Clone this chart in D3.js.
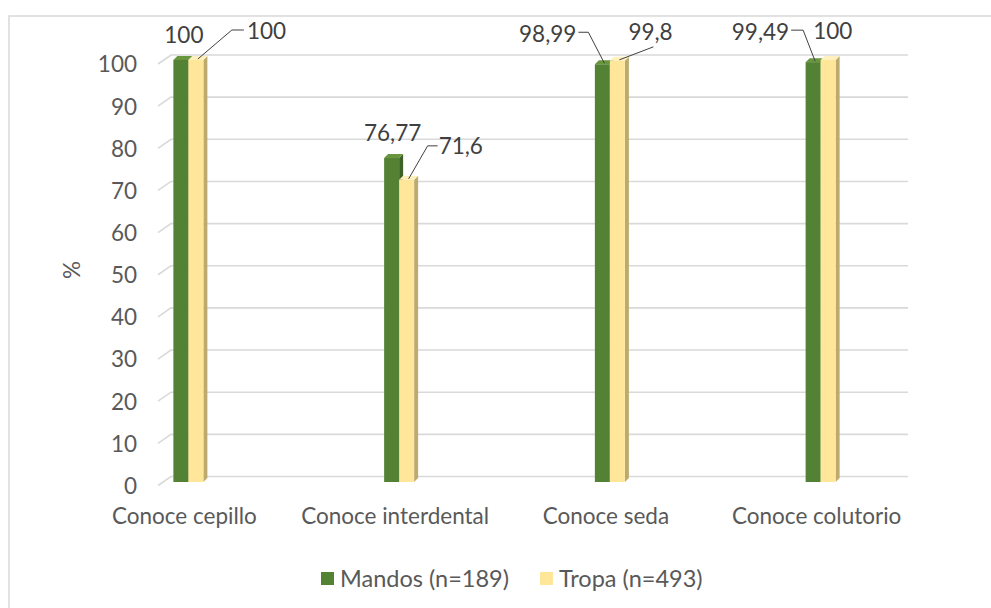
<!DOCTYPE html>
<html>
<head>
<meta charset="utf-8">
<script src="https://cdn.jsdelivr.net/npm/d3@7"></script>
<style>
  html, body { margin: 0; padding: 0; background: #ffffff; }
  svg { display: block; font-family: Lato, "Open Sans", sans-serif; }
</style>
</head>
<body>
<svg id="chart" width="991" height="608"></svg>
<script>
// ---- data ----
const categories = ["Conoce cepillo", "Conoce interdental", "Conoce seda", "Conoce colutorio"];
const seriesNames = ["Mandos (n=189)", "Tropa (n=493)"];
const mandos = [100, 76.77, 98.99, 99.49];
const tropa = [100, 71.6, 99.8, 100];
const mandosLabels = ["100", "76,77", "98,99", "99,49"];
const tropaLabels = ["100", "71,6", "99,8", "100"];
const yTicks = [0, 10, 20, 30, 40, 50, 60, 70, 80, 90, 100];
const yTitle = "%";

// ---- layout (not data) ----
const FS = "22.5px";
const colors = {
  green: { front: "#548235", side: "#3d6126", top: "#67963f" },
  yellow: { front: "#ffe699", side: "#bcaa6e", top: "#fff0bd" }
};
const barW = 15, depthX = 4, depthY = 4;
const backDX = 13, backDY = 9;
// manual data-label placements as offsets from each bar's top anchor
const mandosLabelPos = [
  {dx: 1, dy: -16, anchor: "middle", leader: null},
  {dx: -1, dy: -16, anchor: "middle", leader: null},
  {dx: -28, dy: -21, anchor: "end", leader: [[0, 0], [-16, -31], [-26, -31]]},
  {dx: -26, dy: -21, anchor: "end", leader: [[0, 0], [-12, -31], [-24, -31]]}
];
const tropaLabelPos = [
  {dx: 49, dy: -20, anchor: "start", leader: [[0, 0], [34, -29], [46, -29]]},
  {dx: 30, dy: -25, anchor: "start", leader: [[0, 0], [19, -33], [29, -33]]},
  {dx: 9, dy: -20, anchor: "start", leader: [[0, 0], [34, -13]]},
  {dx: -17, dy: -20, anchor: "start", leader: null}
];

const svg = d3.select("#chart");

// chart border
svg.append("rect")
  .attr("x", 9).attr("y", 16).attr("width", 1100).attr("height", 1000)
  .attr("fill", "none").attr("stroke", "#d9d9d9").attr("stroke-width", 1.5);

const x = d3.scaleBand().domain(categories).range([83, 926]);
const y = d3.scaleLinear().domain([0, 100]).range([485.5, 64]);
const yBar = d3.scaleLinear().domain([0, 100]).range([482, 60]);
const gridLeft = 158, gridRight = 908;

// gridlines (3D back wall with diagonal side)
const grid = svg.append("g");
yTicks.forEach(t => {
  const yy = y(t);
  grid.append("path")
    .attr("d", d3.line()([[gridLeft, yy], [gridLeft + backDX, yy - backDY], [gridRight, yy - backDY]]))
    .attr("fill", "none").attr("stroke", "#d9d9d9").attr("stroke-width", 1.6);
});

// y axis labels via d3 axis
const yAxis = d3.axisLeft(y).tickValues(yTicks).tickSize(0).tickPadding(0);
const gy = svg.append("g").attr("transform", "translate(137,0)").call(yAxis);
gy.select(".domain").remove();
gy.selectAll("text").attr("fill", "#595959").style("font-size", FS)
  .style("font-family", "Lato, 'Open Sans', sans-serif").attr("dy", "0.35em");

// y title
svg.append("text")
  .attr("transform", "translate(80,270) rotate(-90)")
  .attr("text-anchor", "middle")
  .attr("fill", "#595959").style("font-size", FS)
  .text(yTitle);

// x axis labels via d3 axis
const xAxis = d3.axisBottom(x).tickSize(0).tickPadding(0);
const gx = svg.append("g").attr("transform", "translate(-4,508)").call(xAxis);
gx.select(".domain").remove();
gx.selectAll("text").attr("fill", "#595959").style("font-size", FS)
  .style("font-family", "Lato, 'Open Sans', sans-serif").attr("dy", "0.71em");

// 3D bars
function bar3d(g, x0, v, c) {
  const yt = yBar(v), yb = yBar(0);
  g.append("polygon")
    .attr("points", [[x0 + barW, yt], [x0 + barW + depthX, yt - depthY], [x0 + barW + depthX, yb - depthY], [x0 + barW, yb]].join(" "))
    .attr("fill", c.side);
  g.append("polygon")
    .attr("points", [[x0, yt], [x0 + depthX, yt - depthY], [x0 + barW + depthX, yt - depthY], [x0 + barW, yt]].join(" "))
    .attr("fill", c.top);
  g.append("rect")
    .attr("x", x0).attr("y", yt).attr("width", barW).attr("height", yb - yt)
    .attr("fill", c.front);
}
const bars = svg.append("g");
categories.forEach((cat, i) => {
  const c = x(cat) + x.bandwidth() / 2;
  bar3d(bars, c - barW, mandos[i], colors.green);
  bar3d(bars, c, tropa[i], colors.yellow);
});

// data labels + leader lines
const labels = svg.append("g");
function drawLabel(ax, ay, text, pos) {
  if (pos.leader) {
    labels.append("path")
      .attr("d", d3.line()(pos.leader.map(p => [ax + p[0], ay + p[1]])))
      .attr("fill", "none").attr("stroke", "#404040").attr("stroke-width", 1);
  }
  labels.append("text")
    .attr("x", ax + pos.dx).attr("y", ay + pos.dy)
    .attr("text-anchor", pos.anchor)
    .attr("fill", "#404040").style("font-size", FS)
    .text(text);
}
categories.forEach((cat, i) => {
  const c = x(cat) + x.bandwidth() / 2;
  drawLabel(c - barW / 2 + 2, yBar(mandos[i]) - 1, mandosLabels[i], mandosLabelPos[i]);
  drawLabel(c + barW / 2 + 2, yBar(tropa[i]) - 1, tropaLabels[i], tropaLabelPos[i]);
});

// legend
const legend = svg.append("g");
const legendItems = [
  {name: seriesNames[0], color: colors.green.front, x: 321},
  {name: seriesNames[1], color: colors.yellow.front, x: 540}
];
legendItems.forEach(it => {
  legend.append("rect").attr("x", it.x).attr("y", 572).attr("width", 13).attr("height", 13).attr("fill", it.color);
  legend.append("text").attr("x", it.x + 19).attr("y", 587)
    .attr("fill", "#595959").style("font-size", "23.5px").text(it.name);
});
</script>
</body>
</html>
